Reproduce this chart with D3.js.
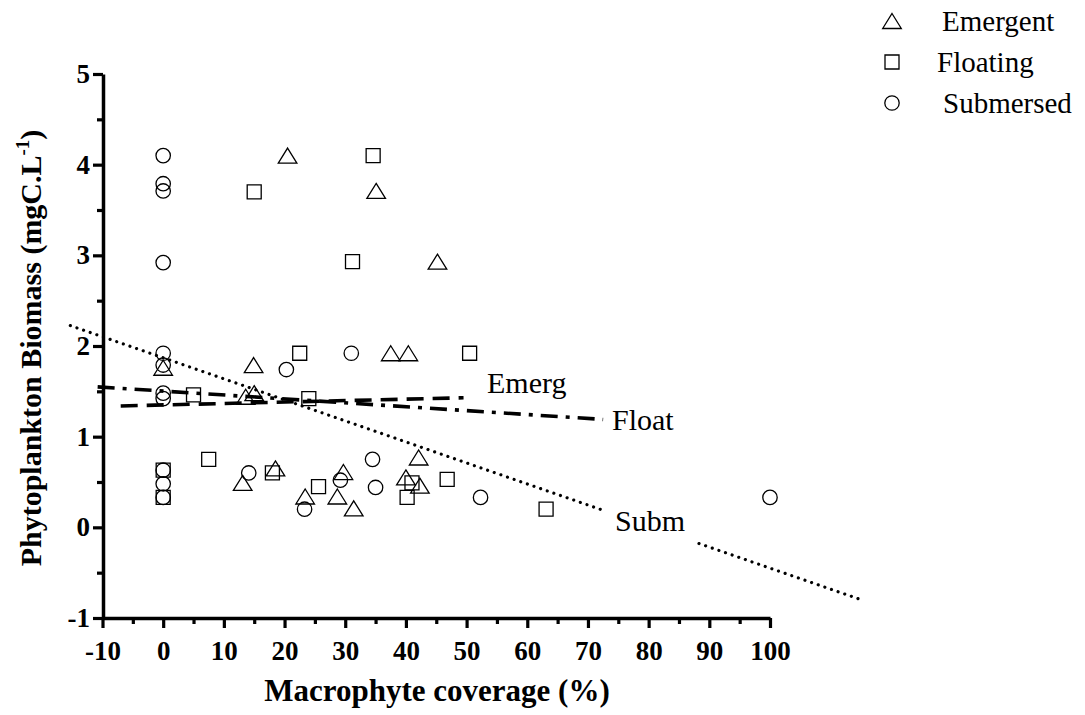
<!DOCTYPE html>
<html>
<head>
<meta charset="utf-8">
<script src="https://cdn.jsdelivr.net/npm/d3@7"></script>
<style>
  html, body { margin: 0; padding: 0; background: #fff; }
  svg { display: block; }
  text { font-family: "Liberation Serif", "Times New Roman", serif; fill: #000; }
</style>
</head>
<body>
<svg id="chart" width="1085" height="715"></svg>
<script>
// ---- data ----
const xTickValues = [-10, 0, 10, 20, 30, 40, 50, 60, 70, 80, 90, 100];
const yTickValues = [-1, 0, 1, 2, 3, 4, 5];

const emergentX = [0, 20.5, 35.1, 45.2, 14.9, 13.6, 15.0, 37.5, 40.4, 13.1, 18.5, 23.4, 28.7, 29.7, 31.4, 40.0, 42.1, 42.3];
const emergentY = [1.76, 4.1, 3.71, 2.93, 1.79, 1.44, 1.48, 1.92, 1.92, 0.49, 0.65, 0.34, 0.34, 0.61, 0.21, 0.55, 0.77, 0.46];

const floatingX = [0, 0, 15.0, 34.6, 31.2, 5.0, 22.5, 24.0, 50.5, 7.5, 18.0, 25.6, 41.0, 40.2, 46.8, 63.1];
const floatingY = [0.63, 0.33, 3.7, 4.1, 2.93, 1.46, 1.92, 1.42, 1.92, 0.75, 0.60, 0.45, 0.49, 0.33, 0.53, 0.20];

const submersedX = [0, 0, 0, 0, 0, 0, 0, 0, 0, 0, 0, 20.3, 31.0, 14.1, 23.3, 29.2, 34.5, 35.0, 52.3, 100];
const submersedY = [4.1, 3.79, 3.71, 2.92, 1.92, 1.79, 1.48, 1.42, 0.63, 0.48, 0.33, 1.74, 1.92, 0.60, 0.20, 0.52, 0.75, 0.44, 0.33, 0.33];

// regression lines: intercept, slope, x segments
const fitNames = ["Emerg", "Float", "Subm"];
const fitIntercepts = [1.35, 1.503, 1.87];
const fitSlopes = [0.0016, -0.00432, -0.0232];
const fitSegments = [
  [[-7, 49.5]],
  [[-10.8, 72.5]],
  [[-15.3, 72.7], [88.3, 114.6]]
];

const legendLabels = ["Emergent", "Floating", "Submersed"];

// ---- drawing ----
const svg = d3.select("#chart");
const x = d3.scaleLinear().domain([-10, 100]).range([102.5, 770]);
const y = d3.scaleLinear().domain([-1, 5]).range([618, 74]);

const lineStyles = [
  { w: 3.6, dash: "17 9", cap: "butt" },
  { w: 3.6, dash: "17 8 4 8", cap: "butt" },
  { w: 3.2, dash: "0.01 7", cap: "round" }
];

// fit lines
fitNames.forEach((name, i) => {
  fitSegments[i].forEach(seg => {
    const pts = seg.map(v => [v, fitIntercepts[i] + fitSlopes[i] * v]);
    svg.append("path")
      .attr("d", d3.line().x(d => x(d[0])).y(d => y(d[1]))(pts))
      .attr("fill", "none")
      .attr("stroke", "#000")
      .attr("stroke-width", lineStyles[i].w)
      .attr("stroke-dasharray", lineStyles[i].dash)
      .attr("stroke-linecap", lineStyles[i].cap);
  });
});

// fit labels
const fitLabelPos = [[487, 393], [612, 430], [615, 531]];
fitNames.forEach((name, i) => {
  svg.append("text")
    .attr("x", fitLabelPos[i][0]).attr("y", fitLabelPos[i][1])
    .attr("font-size", 30)
    .text(name);
});

// axes
const fmt = d => String(d);
const xAxis = d3.axisBottom(x).tickValues(xTickValues).tickSize(10).tickSizeOuter(0).tickPadding(13).tickFormat(fmt);
const xMinor = d3.axisBottom(x).tickValues(d3.range(-5, 100, 10)).tickSize(6).tickSizeOuter(0).tickFormat("");
const yAxis = d3.axisLeft(y).tickValues(yTickValues).tickSize(10).tickSizeOuter(0).tickPadding(3).tickFormat(fmt);
const yMinor = d3.axisLeft(y).tickValues(d3.range(-0.5, 5, 1)).tickSize(6).tickSizeOuter(0).tickFormat("");

function styleAxis(g) {
  g.attr("font-family", null);
  g.selectAll("path.domain").attr("stroke", "#000").attr("stroke-width", 3.5);
  g.selectAll(".tick line").attr("stroke", "#000").attr("stroke-width", 3.2);
  g.selectAll(".tick text")
    .attr("font-family", "'Liberation Serif', 'Times New Roman', serif")
    .attr("font-weight", "bold").attr("font-size", 27).attr("fill", "#000");
}

const gx = svg.append("g").attr("transform", "translate(0,618)").call(xAxis);
styleAxis(gx);
const gxm = svg.append("g").attr("transform", "translate(0,618)").call(xMinor);
styleAxis(gxm);
gxm.select("path.domain").remove();

const gy = svg.append("g").attr("transform", "translate(103,0)").call(yAxis);
styleAxis(gy);
const gym = svg.append("g").attr("transform", "translate(103,0)").call(yMinor);
styleAxis(gym);
gym.select("path.domain").remove();

// axis titles
svg.append("text")
  .attr("x", 437).attr("y", 701)
  .attr("text-anchor", "middle")
  .attr("font-weight", "bold").attr("font-size", 31)
  .text("Macrophyte coverage (%)");

const yt = svg.append("text")
  .attr("transform", "translate(41,348) rotate(-90)")
  .attr("text-anchor", "middle")
  .attr("font-weight", "bold").attr("font-size", 30);
yt.append("tspan").text("Phytoplankton Biomass (mgC.L");
yt.append("tspan").attr("font-size", 19).attr("dy", -12).text("-1");
yt.append("tspan").attr("dy", 12).text(")");

// markers
const triPath = s => `M0,${-s * 0.5} L${s * 0.62},${s * 0.5} L${-s * 0.62},${s * 0.5} Z`;
const sqPath = s => `M${-s / 2},${-s / 2} h${s} v${s} h${-s} Z`;
const circPath = r => `M${r},0 A${r},${r} 0 1,1 ${-r},0 A${r},${r} 0 1,1 ${r},0 Z`;

function drawMarkers(xs, ys, pathStr) {
  svg.append("g").selectAll("path")
    .data(xs.map((v, i) => [v, ys[i]]))
    .join("path")
    .attr("transform", d => `translate(${x(d[0])},${y(d[1])})`)
    .attr("d", pathStr)
    .attr("fill", "none")
    .attr("stroke", "#000")
    .attr("stroke-width", 1.3);
}
drawMarkers(submersedX, submersedY, circPath(7.2));
drawMarkers(floatingX, floatingY, sqPath(14));
drawMarkers(emergentX, emergentY, triPath(15));

// legend
const legendRowY = [21, 62, 103];
const legendTextX = [942, 937, 943];
const legendShapes = [triPath(15), sqPath(14), circPath(7.2)];
legendLabels.forEach((lab, i) => {
  svg.append("path")
    .attr("transform", `translate(892,${legendRowY[i]})`)
    .attr("d", legendShapes[i])
    .attr("fill", "none").attr("stroke", "#000").attr("stroke-width", 1.3);
  svg.append("text")
    .attr("x", legendTextX[i]).attr("y", legendRowY[i] + 10)
    .attr("font-size", 29)
    .text(lab);
});
</script>
</body>
</html>
